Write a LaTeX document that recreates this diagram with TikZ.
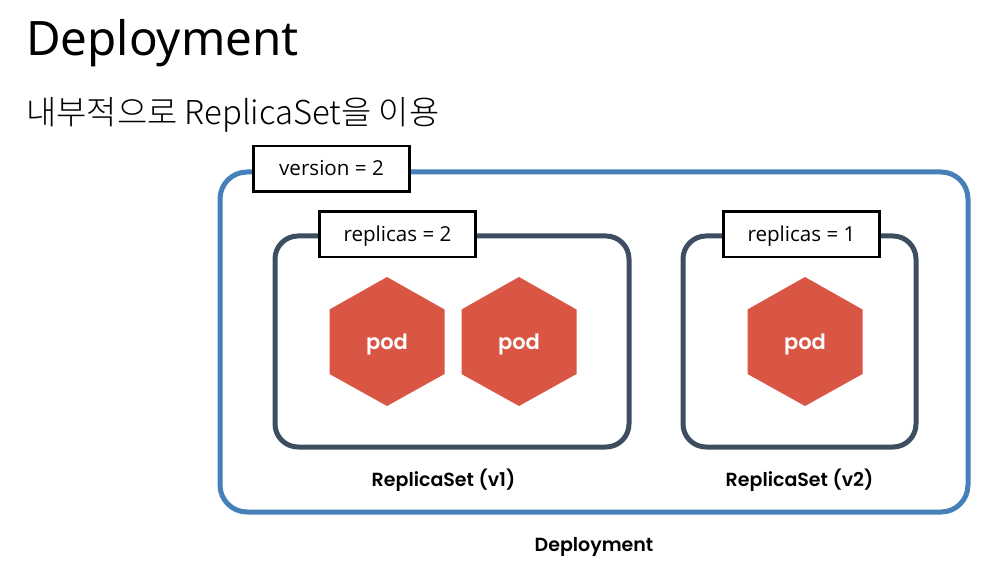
\documentclass[tikz,border=0pt]{standalone}
\usepackage{fontspec}
\setmainfont{Noto Sans CJK KR}[UprightFont=* Light]
\newfontfamily\titlefont{Noto Sans}
\newfontfamily\labelfont{Open Sans}
\newfontfamily\capfont{Poppins SemiBold}
\usetikzlibrary{positioning}
\definecolor{deployblue}{HTML}{4581B8}
\definecolor{setslate}{HTML}{3C4E60}
\definecolor{podred}{HTML}{D95645}
\tikzset{
  deploybox/.style={draw=deployblue,line width=5pt,rounded corners=27pt},
  setbox/.style={draw=setslate,line width=5pt,rounded corners=23pt},
  tagbox/.style={draw=black,line width=2.5pt,fill=white,inner sep=0pt,minimum width=156pt,minimum height=45.5pt,text height=18pt,text depth=4.8pt,font=\labelfont\fontsize{20.6}{24}\selectfont},
  podtext/.style={text=white,font=\capfont\fontsize{21}{24}\selectfont},
  captext/.style={font=\capfont\fontsize{19}{22}\selectfont},
}
\begin{document}
\begin{tikzpicture}[x=1pt,y=1pt]
\useasboundingbox (0,0) rectangle (994,-564);

\node[anchor=base west,inner sep=0pt,font=\titlefont\fontsize{47.5}{52}\selectfont] (title) at (26,-56) {Deployment};
\node[anchor=base west,inner sep=0pt,font=\fontsize{32.9}{36}\selectfont] (subtitle) at (26,-125) {내부적으로 ReplicaSet을 이용};

% boxes
\draw[deploybox] (220,-172) rectangle (968,-512);
\draw[setbox] (275,-236) rectangle (629,-447);
\draw[setbox] (683,-236) rectangle (916,-447);

\node[tagbox] (version) at (331.5,-169) {version = 2};
\node[tagbox] (replicasa) at (397.5,-234.5) {replicas = 2};
\node[tagbox] (replicasb) at (801.5,-234.5) {replicas = 1};

% pods
\foreach \podname/\cx in {poda/387,podb/519,podc/805}{
  \fill[podred] (\cx,-277) -- (\cx+57.5,-309.5) -- (\cx+57.5,-374) -- (\cx,-406)
    -- (\cx-57.5,-374) -- (\cx-57.5,-309.5) -- cycle;
  \node[podtext] (\podname) at (\cx,-345) {pod};
}

\node[captext] (capa) at (443.5,-480) {ReplicaSet (v1)};
\node[captext] (capb) at (799.5,-480) {ReplicaSet (v2)};
\node[captext] (capc) at (594,-546.5) {Deployment};

\end{tikzpicture}
\end{document}
